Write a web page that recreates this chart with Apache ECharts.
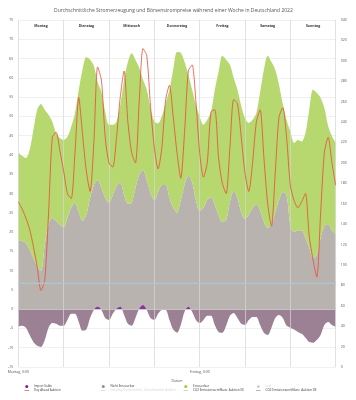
<!DOCTYPE html>
<html>
<head>
<meta charset="utf-8">
<script src="https://cdn.jsdelivr.net/npm/echarts@6/dist/echarts.min.js"></script>
<style>html,body{margin:0;padding:0;background:#fff}#c{width:356px;height:400px}</style>
</head>
<body>
<div id="c"></div>
<script>
// ---- data ----
const hours = [0,2,4,6,8,10,12,14,16,18,20,22,24,26,28,30,32,34,36,38,40,42,44,46,48,50,52,54,56,58,60,62,64,66,68,70,72,74,76,78,80,82,84,86,88,90,92,94,96,98,100,102,104,106,108,110,112,114,116,118,120,122,124,126,128,130,132,134,136,138,140,142,144,146,148,150,152,154,156,158,160,162,164,166,168];
const days = ['Montag','Dienstag','Mittwoch','Donnerstag','Freitag','Samstag','Sonntag'];
const xTickLabels = {0:'Montag, 0:00', 96:'Freitag, 0:00'};
const nichtErneuerbar = [18.0,17.7,17.2,15.4,13.3,11.2,9.9,16.7,22.1,23.7,
 22.9,21.9,21.3,23.7,26.3,27.6,25.2,22.9,24.5,28.9,
 32.2,33.5,31.5,28.9,27.6,29.6,32.0,32.8,29.6,27.3,
 27.6,31.5,34.8,36.1,33.5,30.2,28.3,30.4,32.2,32.2,
 28.9,26.3,25.0,28.3,32.2,34.6,33.0,28.3,25.5,26.3,
 28.3,29.1,27.1,24.5,22.6,23.2,27.8,30.7,28.9,25.2,
 23.4,24.5,26.3,27.3,25.7,22.6,21.1,21.9,25.2,28.3,
 30.4,29.6,21.9,20.0,20.5,20.5,18.5,15.9,13.3,14.1,
 18.5,21.6,22.1,20.5,19.5];
const erneuerbar = [22.6,22.1,22.0,25.9,33.2,40.5,43.3,35.0,28.3,24.9,
 22.8,22.5,22.6,21.0,21.0,23.3,31.7,39.2,40.9,35.8,
 30.9,25.4,24.8,22.3,20.2,18.2,16.7,20.2,29.9,36.8,
 38.8,33.2,27.8,23.4,23.4,22.0,20.4,17.8,17.9,21.3,
 28.0,35.8,41.7,38.2,31.9,26.2,23.9,24.7,24.4,21.5,
 20.8,22.1,29.8,37.0,43.1,41.5,35.6,29.3,28.0,27.5,
 26.1,23.8,22.8,23.6,30.6,39.5,44.6,42.2,36.9,29.9,
 22.8,19.5,24.1,23.1,23.4,23.0,27.2,35.8,43.6,42.0,
 36.3,30.6,25.4,24.4,23.6];
const importSaldo = [-4.5,-4.3,-4.8,-6.7,-8.5,-9.5,-9.8,-8.0,-4.8,-3.6,
 -3.8,-4.3,-4.3,-2.8,-1.2,-1.2,-3.3,-5.6,-5.3,-2.3,
 -0.2,0.6,-0.2,-2.3,-2.8,-1.2,0.1,0.6,-1.5,-3.8,
 -4.3,-2.3,0.1,1.1,-0.2,-2.3,-2.8,-1.2,-0.2,-0.2,
 -2.8,-5.3,-6.1,-4.1,-0.7,0.6,-0.7,-2.8,-3.6,-2.8,
 -1.7,-1.7,-4.1,-5.9,-6.1,-4.3,-1.7,-1.0,-2.3,-3.8,
 -4.1,-2.8,-2.0,-2.0,-4.1,-6.1,-6.7,-4.8,-2.3,-1.5,
 -2.3,-4.3,-4.8,-5.3,-5.9,-6.4,-7.4,-8.5,-8.7,-8.0,
 -6.7,-4.1,-3.3,-4.1,-4.6];
const dayAhead = [162,155,146,135,118,98,75,85,150,225,
 230,212,192,170,165,210,264,228,192,172,
 220,294,281,225,200,196,225,265,290,240,
 210,200,260,312,305,255,215,194,215,262,
 276,245,210,185,230,290,296,260,210,186,
 200,250,252,205,180,170,215,262,258,225,
 190,172,200,240,252,205,160,138,190,245,
 254,225,178,163,156,162,170,128,105,88,
 150,210,225,200,178];
const co2Hours = [0,24,48,72,96,120,144,168];
const co2EX = [82,82,82,82,82,82,82,82];
const co2DE = [82,82,82,82,82,82,82,82];
const intraday = [];
const last = [];

const pts = (xs, ys) => xs.map((x, i) => [x, ys[i]]);
const FF = 'Open Sans';
const TXT = '#555';
const LINEICON = 'path://M0,0h10v1.6h-10z';

const chart = echarts.init(document.getElementById('c'), null, {renderer: 'canvas'});
const legendBase = {top: 385, orient: 'vertical', itemGap: 1, itemWidth: 4.5, itemHeight: 3, padding: 0,
  textStyle: {fontSize: 3, color: '#333', fontFamily: FF},
  selected: {'Intraday Kontinuierlich, Viertelstunden Auktion': false, 'Last': false}};
chart.setOption({
  animation: false,
  textStyle: {fontFamily: FF},
  title: {
    text: 'Durchschnittliche Stromerzeugung und Börsenstrompreise während einer Woche in Deutschland 2022',
    left: 49, top: 3,
    textStyle: {fontSize: 5, fontWeight: 'normal', color: '#555', fontFamily: FF}
  },
  grid: {left: 18.3, right: 20.3, top: 20, bottom: 33, outerBoundsMode: 'none', containLabel: false},
  xAxis: [{
    type: 'value', min: 0, max: 168, interval: 24, z: 3,
    axisLine: {show: true, lineStyle: {color: '#ccc', width: 0.8}},
    axisTick: {show: false},
    axisLabel: {fontSize: 3.5, color: TXT, margin: 3,
      formatter: v => xTickLabels[v] || ''},
    splitLine: {show: true, lineStyle: {color: 'rgba(214,214,214,0.9)', width: 0.8}},
    name: 'Datum', nameLocation: 'middle', nameGap: 9,
    nameTextStyle: {fontSize: 3.5, color: TXT}
  }, {
    type: 'category', data: days, position: 'top', boundaryGap: true, z: 5,
    axisLine: {show: false}, axisTick: {show: false}, splitLine: {show: false},
    axisLabel: {inside: true, interval: 0, margin: 4, fontSize: 3.5, fontWeight: 'bold', color: '#333'}
  }, {
    type: 'category', data: hours, boundaryGap: false, show: false
  }],
  yAxis: [{
    type: 'value', min: -15, max: 75, interval: 5, position: 'left',
    axisLine: {show: false}, axisTick: {show: false},
    axisLabel: {fontSize: 3.5, color: TXT, margin: 5},
    splitLine: {show: true, lineStyle: {color: '#ececec', width: 0.8}},
    name: 'Leistung (GW)', nameLocation: 'middle', nameGap: 12,
    nameTextStyle: {fontSize: 3.5, color: TXT}
  }, {
    type: 'value', min: 0, max: 340, interval: 20, position: 'right',
    axisLine: {show: false}, axisTick: {show: false},
    axisLabel: {fontSize: 3.5, color: TXT, margin: 5},
    splitLine: {show: false},
    name: 'Preis (Euro/MWh, Euro/tCO2)', nameLocation: 'middle', nameGap: 14,
    nameTextStyle: {fontSize: 3.5, color: TXT}
  }],
  legend: [
    Object.assign({left: 24.5, data: [{name: 'Import Saldo', icon: 'circle'}, {name: 'Day Ahead Auktion', icon: LINEICON}]}, legendBase),
    Object.assign({left: 101, data: [{name: 'Nicht Erneuerbar', icon: 'circle'}, {name: 'Intraday Kontinuierlich, Viertelstunden Auktion', icon: LINEICON}]}, legendBase),
    Object.assign({left: 183.5, data: [{name: 'Erneuerbar', icon: 'circle'}, {name: 'CO2 Emissionszertifikate_Auktion EX', icon: LINEICON}]}, legendBase),
    Object.assign({left: 256, data: [{name: 'Last', icon: 'circle'}, {name: 'CO2 Emissionszertifikate_Auktion DE', icon: LINEICON}]}, legendBase)
  ],
  series: [
    {name: 'Nicht Erneuerbar', type: 'line', xAxisIndex: 2, stack: 'gen', data: nichtErneuerbar,
     symbol: 'none', smooth: 0.3, lineStyle: {width: 0}, itemStyle: {color: '#8f8f8f'},
     areaStyle: {color: '#b9b3b0', opacity: 1}, z: 1},
    {name: 'Erneuerbar', type: 'line', xAxisIndex: 2, stack: 'gen', data: erneuerbar,
     symbol: 'none', smooth: 0.3, lineStyle: {width: 0}, itemStyle: {color: '#9acd32'},
     areaStyle: {color: '#b6d86f', opacity: 1}, z: 1},
    {name: 'Import Saldo', type: 'line', data: pts(hours, importSaldo),
     symbol: 'none', smooth: 0.3, lineStyle: {width: 0}, itemStyle: {color: '#7b1fa2'},
     areaStyle: {color: '#9c8195', opacity: 1}, z: 1},
    {name: 'Day Ahead Auktion', type: 'line', yAxisIndex: 1, data: pts(hours, dayAhead),
     symbol: 'none', smooth: 0.25, lineStyle: {width: 0.8, color: '#ea4a36'}, itemStyle: {color: '#ea4a36'}, z: 4},
    {name: 'Intraday Kontinuierlich, Viertelstunden Auktion', type: 'line', yAxisIndex: 1, data: intraday,
     symbol: 'none', itemStyle: {color: '#f2a25c'}},
    {name: 'CO2 Emissionszertifikate_Auktion EX', type: 'line', yAxisIndex: 1, data: pts(co2Hours, co2EX),
     symbol: 'none', lineStyle: {width: 1, color: '#a9c7d6'}, itemStyle: {color: '#a9c7d6'}, z: 4},
    {name: 'Last', type: 'line', data: last, symbol: 'none', itemStyle: {color: '#555'}},
    {name: 'CO2 Emissionszertifikate_Auktion DE', type: 'line', yAxisIndex: 1, data: pts(co2Hours, co2DE),
     symbol: 'none', lineStyle: {width: 1, color: '#b3c3cc'}, itemStyle: {color: '#8a9ba6'}, z: 4}
  ]
});
// Colour the positive part of the import balance purple: gradient split at the axis' own zero pixel.
const zeroY = chart.convertToPixel({yAxisIndex: 0}, 0);
const topY = chart.convertToPixel({yAxisIndex: 0}, 75);
const botY = chart.convertToPixel({yAxisIndex: 0}, -15);
const f = (zeroY - topY) / (botY - topY);
chart.setOption({series: [{}, {}, {areaStyle: {color: new echarts.graphic.LinearGradient(0, topY, 0, botY, [
  {offset: 0, color: '#8e2fa8'}, {offset: f, color: '#8e2fa8'},
  {offset: f, color: '#9c8195'}, {offset: 1, color: '#9c8195'}], true)}}]});
</script>
</body>
</html>
